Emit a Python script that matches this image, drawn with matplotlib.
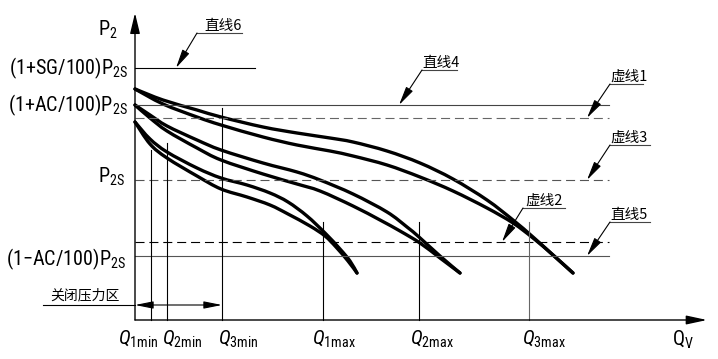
import matplotlib
matplotlib.use("Agg")
import matplotlib.pyplot as plt
from matplotlib import font_manager
from matplotlib.path import Path
from matplotlib.patches import PathPatch

names = {f.name for f in font_manager.fontManager.ttflist}
LATIN = "DejaVu Sans"
for cand in ["Roboto Condensed", "Archivo Narrow", "PT Sans Narrow",
             "Barlow Condensed", "Liberation Sans"]:
    if cand in names:
        LATIN = cand
        break
CJK = "Noto Sans CJK SC"
plt.rcParams["font.family"] = [LATIN, CJK, "DejaVu Sans"]
plt.rcParams["mathtext.fontset"] = "custom"
plt.rcParams["mathtext.rm"] = LATIN
plt.rcParams["mathtext.it"] = LATIN + ":italic"
plt.rcParams["mathtext.bf"] = LATIN + ":bold"
plt.rcParams["lines.scale_dashes"] = False

# ---------------- data (origin = axes origin) ----------------
p1_up_x = [0, 15, 32, 62, 86, 112, 135, 153, 172, 190, 205, 215, 222]
p1_up_y = [198, 181, 168, 152, 142, 135, 127, 118, 104, 87, 71, 59, 47]
p1_lo_x = [0, 15, 32, 62, 86, 112, 135, 153, 175, 190, 201, 213, 222]
p1_lo_y = [198, 176, 162, 144, 131, 123, 115, 106, 94, 84, 73, 59, 47]

p2_up_x = [0, 15, 32, 62, 86, 128, 162, 185, 218, 252, 272, 284, 305, 325]
p2_up_y = [215, 205, 194, 180, 170, 157, 148, 140, 126, 108, 93, 83, 64, 47]
p2_lo_x = [0, 15, 32, 62, 86, 128, 162, 185, 218, 245, 265, 285, 305, 325]
p2_lo_y = [215, 202, 189, 172, 160, 146, 136, 129, 114, 100, 89, 77, 62, 47]

p3_up_x = [0, 28, 62, 86, 128, 162, 195, 218, 252, 285, 318, 352, 378, 398, 418, 438]
p3_up_y = [231, 220, 210, 203, 193, 187, 182, 178, 169, 157, 141, 120, 100, 83, 65, 47]
p3_lo_x = [0, 28, 62, 86, 128, 162, 195, 218, 252, 285, 318, 352, 378, 398, 418, 438]
p3_lo_y = [231, 216, 203, 195, 183, 175, 169, 164, 155, 143, 129, 112, 97, 82, 65, 47]

lvl_sg = 252       # (1+SG/100)P2S  直线6
lvl_acp = 215      # (1+AC/100)P2S  直线4
lvl_d1 = 202       # 虚线1
lvl_p2s = 140      # P2S  虚线3
lvl_d2 = 78        # 虚线2
lvl_acm = 64       # (1-AC/100)P2S  直线5
sg_end = 120
lvl_end = 474

q_names = ["1min", "2min", "3min", "1max", "2max", "3max"]
q_pos = [16, 32, 87, 188, 284, 394]
q_top = [170, 177, 212, 98, 98, 98]
q_lbl_x = [-17, 27, 83, 177, 275, 387]

x_end = 572
y_end = 307
zone_left = -92
zone_right = 87

# ---------------- figure ----------------
fig = plt.figure(figsize=(7.18, 3.59), dpi=100)
ax = fig.add_axes([0, 0, 1, 1])
ax.set_xlim(-135, 583)
ax.set_ylim(-39, 320)
ax.axis("off")

K = "black"
G = "#666666"
thin = 0.8
dash = (0, (6.5, 3.5))


def smooth_path(xs, ys):
    pts = list(zip(xs, ys))
    n = len(pts)
    verts = [pts[0]]
    codes = [Path.MOVETO]
    for i in range(n - 1):
        p0 = pts[i - 1] if i > 0 else pts[i]
        p1 = pts[i]
        p2 = pts[i + 1]
        p3 = pts[i + 2] if i + 2 < n else pts[i + 1]
        c1 = (p1[0] + (p2[0] - p0[0]) / 6.0, p1[1] + (p2[1] - p0[1]) / 6.0)
        c2 = (p2[0] - (p3[0] - p1[0]) / 6.0, p2[1] - (p3[1] - p1[1]) / 6.0)
        verts += [c1, c2, p2]
        codes += [Path.CURVE4] * 3
    return Path(verts, codes)


ax.annotate("", xy=(0, y_end), xytext=(0, 0),
            arrowprops=dict(arrowstyle="-|>,head_length=1.25,head_width=0.3",
                            color=K, lw=1.0, shrinkA=0, shrinkB=0))
ax.annotate("", xy=(x_end, 0), xytext=(0, 0),
            arrowprops=dict(arrowstyle="-|>,head_length=1.25,head_width=0.27",
                            color=K, lw=1.0, shrinkA=0, shrinkB=0))

ax.plot([0, sg_end], [lvl_sg, lvl_sg], color=K, lw=thin)
ax.plot([0, lvl_end], [lvl_acp, lvl_acp], color="#444444", lw=thin)
ax.plot([0, lvl_end], [lvl_d1, lvl_d1], color=G, lw=thin, ls=dash)
ax.plot([0, lvl_end], [lvl_p2s, lvl_p2s], color="#555555", lw=thin, ls=dash)
ax.plot([0, lvl_end], [lvl_d2, lvl_d2], color=K, lw=thin, ls=dash)
ax.plot([0, lvl_end], [lvl_acm, lvl_acm], color="#555555", lw=thin)

for i, (qx, qt) in enumerate(zip(q_pos, q_top)):
    ax.plot([qx, qx], [0, qt], color=(G if i == 5 else K), lw=thin)

for xs, ys in [(p1_up_x, p1_up_y), (p1_lo_x, p1_lo_y),
               (p2_up_x, p2_up_y), (p2_lo_x, p2_lo_y),
               (p3_up_x, p3_up_y), (p3_lo_x, p3_lo_y)]:
    ax.add_patch(PathPatch(smooth_path(xs, ys), fill=False, edgecolor=K,
                           lw=2.4, capstyle="round", joinstyle="round"))

ax.plot([zone_left, 0], [15, 15], color=K, lw=thin)
ax.annotate("", xy=(0, 15), xytext=(zone_right, 15),
            arrowprops=dict(arrowstyle="<|-|>,head_length=1.1,head_width=0.22",
                            color=K, lw=thin, shrinkA=0, shrinkB=0))
ax.text(-85, 21, "关闭压力区", family=[CJK], fontsize=10, ha="left", va="baseline")

FS = 14.5
ax.text(-17, 284, r"P$_2$", fontsize=FS, ha="right", va="baseline")
ax.text(-7, 246, r"(1+SG/100)P$_\mathrm{2S}$", fontsize=FS, ha="right", va="baseline")
ax.text(-7, 209, r"(1+AC/100)P$_\mathrm{2S}$", fontsize=FS, ha="right", va="baseline")
ax.text(-10, 137, r"P$_\mathrm{2S}$", fontsize=FS, ha="right", va="baseline")
ax.text(-9, 55, r"(1$-$AC/100)P$_\mathrm{2S}$", fontsize=FS, ha="right", va="baseline")

for nm, lx in zip(q_names, q_lbl_x):
    ax.text(lx, -25, r"$\mathit{Q}_\mathrm{%s}$" % nm, fontsize=FS, ha="left", va="baseline")
ax.text(537, -26, r"Q$_\mathrm{V}$", fontsize=FS, ha="left", va="baseline")

leaders = [
    ("直线6", 69, 290, 62, 107, (41, lvl_sg)),
    ("直线4", 287, 253, 287, 322, (264, lvl_acp)),
    ("虚线1", 475, 239, 475, 508, (452, lvl_d1)),
    ("虚线3", 475, 178, 475, 515, (452, lvl_p2s)),
    ("虚线2", 390, 115, 388, 430, (367, lvl_d2)),
    ("直线5", 475, 101, 475, 515, (452, lvl_acm)),
]
for txt, tx, ty, u0, u1, tip in leaders:
    uy = ty - 3
    ax.text(tx, ty, txt, family=[CJK], fontsize=10.5, ha="left", va="baseline")
    ax.plot([u0, u1], [uy, uy], color="#444444", lw=thin)
    ax.annotate("", xy=tip, xytext=(u0, uy),
                arrowprops=dict(arrowstyle="-|>,head_length=1.15,head_width=0.24",
                                color=K, lw=thin, shrinkA=0, shrinkB=0))

fig.savefig("out.png", dpi=100)
